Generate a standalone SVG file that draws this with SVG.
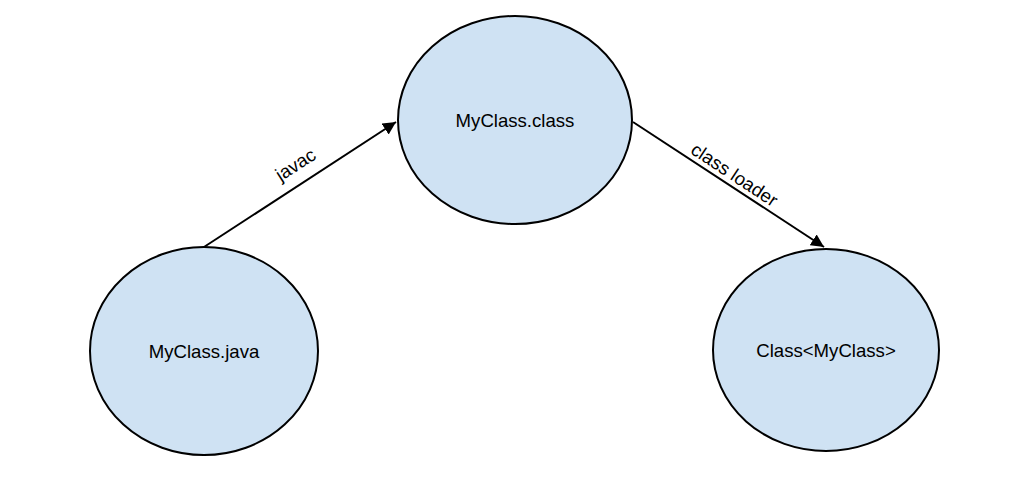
<svg xmlns="http://www.w3.org/2000/svg" width="1012" height="482" viewBox="0 0 1012 482">
<style>
.node ellipse{fill:#cfe2f3;stroke:#000;stroke-width:2}
text{font-family:"Liberation Sans",Arial,sans-serif;font-size:18.6px;fill:#000}
.node text{text-anchor:middle}
.edge line{stroke:#000;stroke-width:2;marker-end:url(#ah)}
</style>
<defs>
<marker id="ah" viewBox="0 0 10 10" refX="10" refY="5" markerWidth="6.5" markerHeight="6.5" markerUnits="strokeWidth" orient="auto">
<path d="M0,0 L10,5 L0,10 z" fill="#000"/>
</marker>
</defs>
<rect width="1012" height="482" fill="#fff"/>
<g id="connectors" class="edge">
<line x1="204" y1="247" x2="396" y2="122"/>
<line x1="633" y1="122" x2="824" y2="247"/>
<text transform="translate(299,170) rotate(-33.1)" text-anchor="middle">javac</text>
<text transform="translate(731,180) rotate(33.4)" text-anchor="middle">class loader</text>
</g>
<g id="myclass-java" class="node">
<ellipse cx="204" cy="351" rx="114" ry="104"/>
<text x="204" y="358">MyClass.java</text>
</g>
<g id="myclass-class" class="node">
<ellipse cx="515" cy="120" rx="117" ry="104"/>
<text x="515" y="127">MyClass.class</text>
</g>
<g id="class-myclass" class="node">
<ellipse cx="826" cy="350" rx="113" ry="101"/>
<text x="826" y="357">Class&lt;MyClass&gt;</text>
</g>
</svg>
